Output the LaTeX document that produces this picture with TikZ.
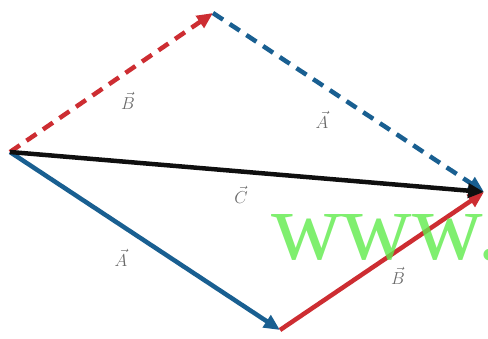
\documentclass[tikz,border=0pt]{standalone}
\usepackage{fontspec}
\newfontfamily\wmfont{Liberation Serif}
\usetikzlibrary{arrows.meta}
\definecolor{vred}{RGB}{205,45,50}
\definecolor{vblue}{RGB}{25,95,145}
\definecolor{vblack}{RGB}{15,15,15}
\definecolor{lbl}{RGB}{105,105,105}
\definecolor{wm}{RGB}{95,235,75}
\tikzset{
  vec/.style={line width=4.5pt, -{Triangle[length=16pt,width=14pt]}, shorten >=0pt},
  dashvec/.style={vec, dash pattern=on 12pt off 8pt},
  lab/.style={text=lbl, font=\fontsize{18}{18}\selectfont, inner sep=0pt},
}
\begin{document}
\begin{tikzpicture}[x=1pt,y=-1pt]
\useasboundingbox (0,0) rectangle (488,338);
\clip (0,0) rectangle (488,338);
\coordinate (O) at (10,152);
\coordinate (T) at (213,13);
\coordinate (R) at (484,192);
\coordinate (M) at (280,330);
\draw[dashvec, vred] (O) -- (T);
\draw[dashvec, vblue] (T) -- (R);
\draw[vec, vblue] (O) -- (M);
\draw[vec, vred] (M) -- (R);
\draw[vec, vblack] (O) -- (R);
\node[lab] (lb1) at (128,101) {$\vec{B}$};
\node[lab] (la1) at (322,120) {$\vec{A}$};
\node[lab] (lc) at (241,195) {$\vec{C}$};
\node[lab] (la2) at (121,258) {$\vec{A}$};
\node[lab] (lb2) at (398,276) {$\vec{B}$};
\node[anchor=base west, inner sep=0pt, text=wm, opacity=0.8, font=\wmfont\fontsize{98}{98}\selectfont] (wmk) at (271,259) {www.};
\end{tikzpicture}
\end{document}
